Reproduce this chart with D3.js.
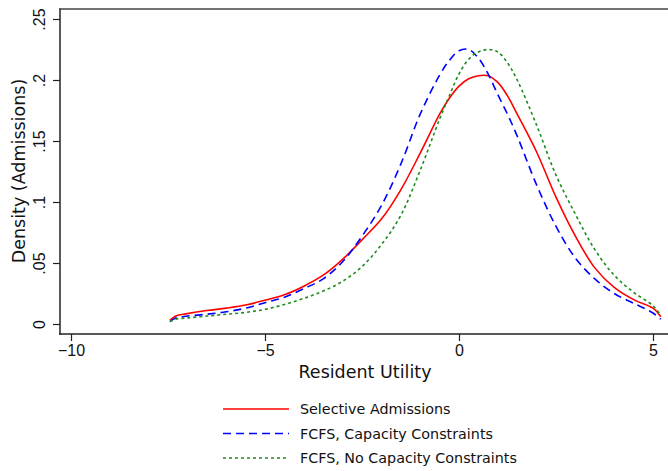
<!DOCTYPE html>
<html>
<head>
<meta charset="utf-8">
<script src="https://cdn.jsdelivr.net/npm/d3@7"></script>
<style>
  body { margin: 0; background: #fff; }
  svg { font-family: "DejaVu Sans", sans-serif; }
</style>
</head>
<body>
<svg id="chart" width="668" height="471"></svg>
<script>
// Resident utility grid (x) shared by all three densities
const utility = [-7.45, -7.3, -7, -6.5, -6, -5.5, -5, -4.5, -4, -3.5, -3, -2.5, -2, -1.5, -1, -0.5, -0.25, 0, 0.25, 0.5, 0.75, 1, 1.25, 1.5, 2, 2.5, 3, 3.5, 4, 4.5, 5, 5.2];

const selective = [0.003, 0.0066, 0.0085, 0.011, 0.013, 0.0155, 0.0195, 0.024, 0.031, 0.040, 0.053, 0.069, 0.086, 0.110, 0.140, 0.172, 0.185, 0.195, 0.201, 0.2035, 0.2035, 0.198, 0.187, 0.172, 0.141, 0.104, 0.072, 0.046, 0.030, 0.020, 0.013, 0.006];
const fcfsCap = [0.002, 0.005, 0.0065, 0.008, 0.010, 0.013, 0.0175, 0.022, 0.029, 0.037, 0.051, 0.072, 0.097, 0.131, 0.172, 0.204, 0.216, 0.224, 0.225, 0.218, 0.205, 0.188, 0.172, 0.154, 0.114, 0.080, 0.054, 0.037, 0.025, 0.017, 0.009, 0.004];
const fcfsNoCap = [0.002, 0.004, 0.005, 0.0065, 0.008, 0.0095, 0.012, 0.016, 0.021, 0.027, 0.035, 0.047, 0.065, 0.089, 0.126, 0.168, 0.187, 0.205, 0.217, 0.223, 0.225, 0.223, 0.214, 0.200, 0.163, 0.122, 0.090, 0.061, 0.040, 0.026, 0.015, 0.007];

const xTicks = [-10, -5, 0, 5];
const yTicks = [0, 0.05, 0.1, 0.15, 0.2, 0.25];
const yTickLabels = ['0', '.05', '.1', '.15', '.2', '.25'];

const seriesNames = ['Selective Admissions', 'FCFS, Capacity Constraints', 'FCFS, No Capacity Constraints'];
const seriesValues = [selective, fcfsCap, fcfsNoCap];
const seriesColors = ['#ff0000', '#0000ff', '#1e8c1e'];
const seriesDash = [null, '8,5', '3,3'];

const svg = d3.select('#chart');

const x = d3.scaleLinear().domain([-10, 5]).range([71, 653]);
const y = d3.scaleLinear().domain([0, 0.25]).range([324, 19]);

const axisColor = '#222';

// frame: left axis, bottom axis, top line
svg.append('line')
    .attr('x1', 60).attr('x2', 60).attr('y1', 8.5).attr('y2', 334.5)
    .attr('stroke', axisColor).attr('stroke-width', 1.5);
svg.append('line')
    .attr('x1', 59).attr('x2', 668).attr('y1', 334).attr('y2', 334)
    .attr('stroke', axisColor).attr('stroke-width', 1.5);
svg.append('line')
    .attr('x1', 59).attr('x2', 668).attr('y1', 9).attr('y2', 9)
    .attr('stroke', '#444').attr('stroke-width', 1.5);

// x axis
const xAxis = svg.append('g')
    .attr('transform', 'translate(0,334)')
    .call(d3.axisBottom(x).tickValues(xTicks).tickSize(7).tickPadding(4).tickFormat(d3.format('d')));
xAxis.select('.domain').remove();
xAxis.selectAll('line').attr('stroke', axisColor).attr('stroke-width', 1.2);
xAxis.selectAll('text').attr('font-size', 16).attr('fill', '#111');

// y axis (labels rotated, Stata style)
const yAxis = svg.append('g')
    .attr('transform', 'translate(60,0)')
    .call(d3.axisLeft(y).tickValues(yTicks).tickSize(7).tickFormat((d, i) => yTickLabels[i]));
yAxis.select('.domain').remove();
yAxis.selectAll('line').attr('stroke', axisColor).attr('stroke-width', 1.2);
yAxis.selectAll('text')
    .attr('font-size', 16)
    .attr('fill', '#111')
    .attr('x', null).attr('dy', null)
    .attr('text-anchor', 'middle')
    .attr('transform', 'translate(-15,0) rotate(-90)');

// axis titles
svg.append('text')
    .attr('x', 365).attr('y', 378)
    .attr('text-anchor', 'middle')
    .attr('font-size', 17.5)
    .attr('fill', '#111')
    .text('Resident Utility');

svg.append('text')
    .attr('transform', 'translate(25,171) rotate(-90)')
    .attr('text-anchor', 'middle')
    .attr('font-size', 17.5)
    .attr('fill', '#111')
    .text('Density (Admissions)');

// density curves
const line = d3.line()
    .x((d, i) => x(utility[i]))
    .y(d => y(d))
    .curve(d3.curveCatmullRom);

seriesValues.forEach((vals, k) => {
    svg.append('path')
        .datum(vals)
        .attr('fill', 'none')
        .attr('stroke', seriesColors[k])
        .attr('stroke-width', 1.6)
        .attr('stroke-dasharray', seriesDash[k])
        .attr('d', line);
});

// legend
const legend = svg.append('g');
seriesNames.forEach((name, k) => {
    const ly = 409 + k * 24.5;
    legend.append('line')
        .attr('x1', 223).attr('x2', 289).attr('y1', ly).attr('y2', ly)
        .attr('stroke', seriesColors[k])
        .attr('stroke-width', 1.6)
        .attr('stroke-dasharray', seriesDash[k]);
    legend.append('text')
        .attr('x', 300).attr('y', ly + 5)
        .attr('font-size', 14.3)
        .attr('fill', '#111')
        .text(name);
});
</script>
</body>
</html>
